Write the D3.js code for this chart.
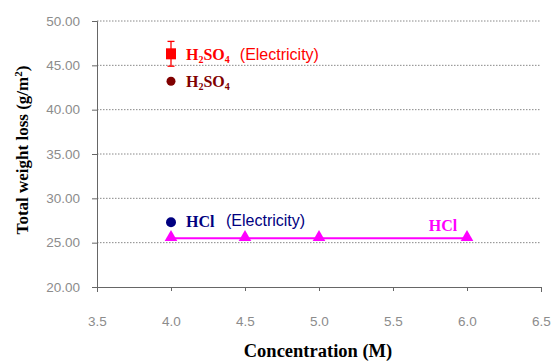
<!DOCTYPE html>
<html>
<head>
<meta charset="utf-8">
<script src="https://cdn.jsdelivr.net/npm/d3@7"></script>
<style>
  body { margin: 0; background: #fff; }
  svg text { font-family: Arial, "Liberation Sans", sans-serif; }
</style>
</head>
<body>
<div id="chart"></div>
<script>
// data
var xTicks = [3.5, 4.0, 4.5, 5.0, 5.5, 6.0, 6.5];
var yTicks = [20, 25, 30, 35, 40, 45, 50];

var h2so4ElecX = [4.0], h2so4ElecY = [46.3], h2so4ElecErr = [1.4];
var h2so4X = [4.0], h2so4Y = [43.2];
var hclElecX = [4.0], hclElecY = [27.3];
var hclX = [4.0, 4.5, 5.0, 6.0], hclY = [25.5, 25.5, 25.5, 25.5];

var width = 554, height = 363;
var margin = {left: 97, right: 13, top: 21, bottom: 76};

var svg = d3.select("#chart").append("svg").attr("width", width).attr("height", height);

var x = d3.scaleLinear().domain([3.5, 6.5]).range([margin.left, width - margin.right]);
var y = d3.scaleLinear().domain([20, 50]).range([height - margin.bottom, margin.top]);

// dotted grid
svg.append("g").selectAll("line").data(yTicks.filter(function(d){ return d > 20; })).enter().append("line")
  .attr("x1", x(3.5)).attr("x2", x(6.5))
  .attr("y1", function(d){ return y(d); }).attr("y2", function(d){ return y(d); })
  .attr("stroke", "#888").attr("stroke-width", 1).attr("stroke-dasharray", "1.5,1.5");

// axes
var xAxis = svg.append("g").attr("transform", "translate(0," + y(20) + ")")
  .call(d3.axisBottom(x).tickValues(xTicks).tickFormat(d3.format(".1f")).tickSize(5).tickPadding(24));
var yAxis = svg.append("g").attr("transform", "translate(" + x(3.5) + ",0)")
  .call(d3.axisLeft(y).tickValues(yTicks).tickFormat(d3.format(".2f")).tickSize(5).tickPadding(12));

[xAxis, yAxis].forEach(function(a){
  a.select(".domain").attr("stroke", "#666");
  a.selectAll(".tick line").attr("stroke", "#666");
  a.selectAll(".tick text").attr("fill", null).style("fill", "#8c8c8c").style("font-size", "13.5px")
    .style("font-family", "Arial, 'Liberation Sans', sans-serif");
});
xAxis.selectAll(".tick line").attr("y2", 4);

// HCl line + triangles
var hcl = hclX.map(function(d, i){ return [d, hclY[i]]; });
svg.append("path").datum(hcl)
  .attr("fill", "none").attr("stroke", "#ff00ff").attr("stroke-width", 2)
  .attr("d", d3.line().x(function(d){ return x(d[0]); }).y(function(d){ return y(d[1]); }));
svg.append("g").selectAll("path").data(hcl).enter().append("path")
  .attr("transform", function(d){ return "translate(" + x(d[0]) + "," + (y(d[1]) - 1) + ")"; })
  .attr("d", d3.symbol().type(d3.symbolTriangle).size(70))
  .attr("fill", "#ff00ff");

// H2SO4 (Electricity) error bar + square
var h2e = h2so4ElecX.map(function(d, i){ return [d, h2so4ElecY[i], h2so4ElecErr[i]]; });
var eb = svg.append("g").selectAll("g").data(h2e).enter().append("g").attr("stroke", "#ff0000").attr("stroke-width", 1.3);
eb.append("line").attr("x1", function(d){ return x(d[0]); }).attr("x2", function(d){ return x(d[0]); })
  .attr("y1", function(d){ return y(d[1] + d[2]); }).attr("y2", function(d){ return y(d[1] - d[2]); });
eb.append("line").attr("x1", function(d){ return x(d[0]) - 3.5; }).attr("x2", function(d){ return x(d[0]) + 3.5; })
  .attr("y1", function(d){ return y(d[1] + d[2]); }).attr("y2", function(d){ return y(d[1] + d[2]); });
eb.append("line").attr("x1", function(d){ return x(d[0]) - 3.5; }).attr("x2", function(d){ return x(d[0]) + 3.5; })
  .attr("y1", function(d){ return y(d[1] - d[2]); }).attr("y2", function(d){ return y(d[1] - d[2]); });
svg.append("g").selectAll("rect").data(h2e).enter().append("rect")
  .attr("x", function(d){ return x(d[0]) - 5; }).attr("y", function(d){ return y(d[1]) - 5.5; })
  .attr("width", 10).attr("height", 11).attr("fill", "#ff0000");

// H2SO4 circle
svg.append("g").selectAll("circle").data(h2so4X.map(function(d, i){ return [d, h2so4Y[i]]; })).enter().append("circle")
  .attr("cx", function(d){ return x(d[0]); }).attr("cy", function(d){ return y(d[1]); })
  .attr("r", 4.5).attr("fill", "#800000");

// HCl (Electricity) circle
svg.append("g").selectAll("circle").data(hclElecX.map(function(d, i){ return [d, hclElecY[i]]; })).enter().append("circle")
  .attr("cx", function(d){ return x(d[0]); }).attr("cy", function(d){ return y(d[1]); })
  .attr("r", 5).attr("fill", "#000080");

// labels
var serif = "'Times New Roman', 'Liberation Serif', serif";
var sans = "Arial, 'Liberation Sans', sans-serif";
function formula(px, py, color, parts, extra) {
  var tx = svg.append("text").attr("x", px).attr("y", py).attr("fill", color).style("font-size", "16px");
  parts.forEach(function(p){
    var s = tx.append("tspan").text(p[0]).style("font-family", serif).style("font-weight", "bold");
    if (p[1]) s.style("font-size", "10px").attr("dy", 3);
    else if (p[2]) s.attr("dy", -3);
  });
  if (extra) tx.append("tspan").text(extra).attr("dx", 10).attr("dy", -3)
    .style("font-family", sans).style("font-size", "16px").style("font-weight", "normal");
  return tx;
}
formula(186, y(46.3) + 6, "#ff0000", [["H"], ["2", true], ["SO", false, true], ["4", true]], "(Electricity)");
formula(186, y(43.2) + 6, "#800000", [["H"], ["2", true], ["SO", false, true], ["4", true]]);
svg.append("text").attr("x", 186).attr("y", y(27.3) + 5).attr("fill", "#000080")
  .style("font-family", serif).style("font-weight", "bold").style("font-size", "16px").text("HCl");
svg.append("text").attr("x", 226).attr("y", y(27.3) + 4).attr("fill", "#000080")
  .style("font-family", sans).style("font-size", "16px").text("(Electricity)");
svg.append("text").attr("x", 443).attr("y", y(25.5) - 7).attr("text-anchor", "middle").attr("fill", "#ff00ff")
  .style("font-family", serif).style("font-weight", "bold").style("font-size", "16px").text("HCl");

// axis titles
svg.append("text").attr("x", 318).attr("y", 357).attr("text-anchor", "middle")
  .style("font-family", serif).style("font-weight", "bold").style("font-size", "18.5px").text("Concentration (M)");
var yt = svg.append("text").attr("transform", "translate(28,150) rotate(-90)").attr("text-anchor", "middle")
  .style("font-family", serif).style("font-weight", "bold").style("font-size", "17px");
yt.append("tspan").text("Total weight loss (g/m");
yt.append("tspan").text("2").style("font-size", "11px").attr("dy", -6);
yt.append("tspan").text(")").attr("dy", 6);
</script>
</body>
</html>
